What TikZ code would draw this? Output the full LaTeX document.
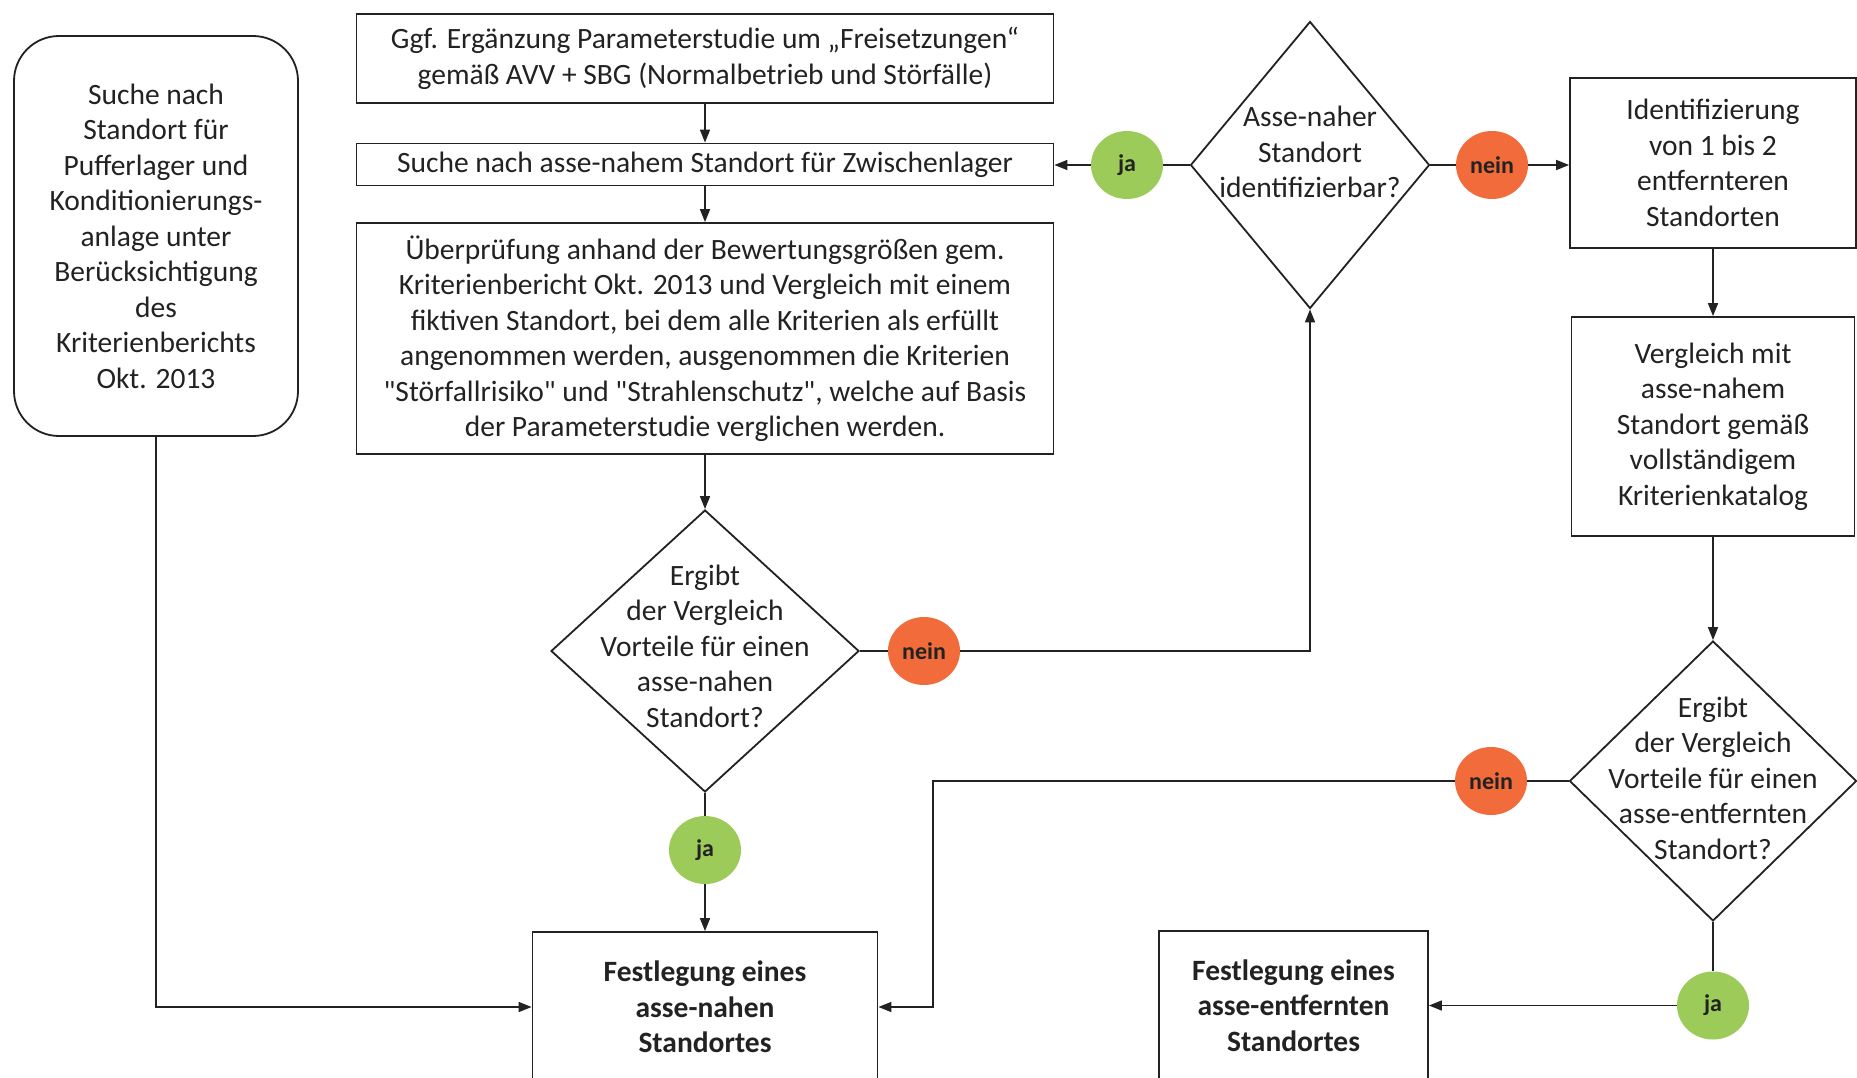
\documentclass[tikz,border=0pt]{standalone}
\usepackage{fontspec}
\setmainfont{Carlito}[Ligatures=TeXOff]
\usetikzlibrary{shapes.geometric,arrows.meta}
\definecolor{jagreen}{HTML}{9DCB5A}
\definecolor{neinorange}{HTML}{F26B3A}
\definecolor{ink}{HTML}{222222}
\begin{document}
\begin{tikzpicture}[x=1pt,y=-1pt,
  font=\fontsize{29.5}{35.5}\selectfont,
  every node/.style={text=ink},
  box/.style={draw=ink, line width=1.8pt, rectangle, inner sep=0pt, align=center},
  dia/.style={draw=ink, line width=1.8pt, diamond, inner sep=0pt},
  circ/.style={ellipse, inner sep=0pt, minimum width=72pt, minimum height=68pt, font=\bfseries\fontsize{24}{28}\selectfont},
  ja/.style={circ, fill=jagreen},
  nein/.style={circ, fill=neinorange},
  line/.style={draw=ink, line width=1.6pt},
  arr/.style={line, -{Triangle[length=13pt,width=10pt]}}]
\fill[white] (0,0) rectangle (1857,1078);
\useasboundingbox (0,0) rectangle (1857,1078);

\node[box, rounded corners=45pt, minimum width=284pt, minimum height=400pt] (left) at (156,236)
  {Suche nach\\Standort für\\Pufferlager und\\Konditionierungs-\\anlage unter\\Berücksichtigung\\des\\Kriterienberichts\\Okt. 2013};
\node[box, minimum width=697pt, minimum height=89pt] (b1) at (705,58.5)
  {Ggf. Ergänzung Parameterstudie um „Freisetzungen“\\gemäß AVV + SBG (Normalbetrieb und Störfälle)};
\node[box, minimum width=697pt, minimum height=42pt] (b2) at (705,164.5)
  {Suche nach asse-nahem Standort für Zwischenlager};
\node[box, minimum width=697pt, minimum height=231pt] (b3) at (705,338.5)
  {Überprüfung anhand der Bewertungsgrößen gem.\\Kriterienbericht Okt. 2013 und Vergleich mit einem\\fiktiven Standort, bei dem alle Kriterien als erfüllt\\angenommen werden, ausgenommen die Kriterien\\"Störfallrisiko" und "Strahlenschutz", welche auf Basis\\der Parameterstudie verglichen werden.};

\node[dia, minimum width=239pt, minimum height=287pt,
  label={[align=center, yshift=13pt]center:{Asse-naher\\Standort\\identifizierbar?}}] (d1) at (1310,165) {};
\node[dia, minimum width=308pt, minimum height=282pt,
  label={[align=center, yshift=5pt]center:{Ergibt\\der Vergleich\\Vorteile für einen\\asse-nahen\\Standort?}}] (d2) at (705,651) {};
\node[dia, minimum width=287pt, minimum height=280pt,
  label={[align=center, yshift=3pt]center:{Ergibt\\der Vergleich\\Vorteile für einen\\asse-entfernten\\Standort?}}] (d3) at (1713,781) {};

\node[box, minimum width=286pt, minimum height=170pt] (ident) at (1713,163)
  {Identifizierung\\von 1 bis 2\\entfernteren\\Standorten};
\node[box, minimum width=283pt, minimum height=219pt] (vergl) at (1713,426.5)
  {Vergleich mit\\asse-nahem\\Standort gemäß\\vollständigem\\Kriterienkatalog};
\node[box, minimum width=345pt, minimum height=150pt, font=\bfseries\fontsize{29.5}{35.5}\selectfont] (fnah) at (705,1007)
  {Festlegung eines\\asse-nahen\\Standortes};
\node[box, minimum width=269pt, minimum height=149pt, font=\bfseries\fontsize{29.5}{35.5}\selectfont] (fent) at (1293.5,1005.5)
  {Festlegung eines\\asse-entfernten\\Standortes};

\node[ja] (ja1) at (1127,165) {ja};
\node[nein] (nein1) at (1492,165) {nein};
\node[nein] (nein2) at (924,651) {nein};
\node[ja] (ja2) at (705,850) {ja};
\node[nein] (nein3) at (1491,781) {nein};
\node[ja] (ja3) at (1713,1005.5) {ja};

\draw[arr] (b1.south) -- (b2.north);
\draw[arr] (b2.south) -- (b3.north);
\draw[arr] (b3.south) -- (d2.north);
\draw[line] (d2.south) -- (ja2);
\draw[arr] (ja2) -- (fnah.north);
\draw[arr] (left.south) |- (fnah.west);
\draw[line] (d1.west) -- (ja1);
\draw[arr] (ja1) -- (ja1 -| b2.east);
\draw[line] (d1.east) -- (nein1);
\draw[arr] (nein1) -- (nein1 -| ident.west);
\draw[arr] (ident.south) -- (vergl.north);
\draw[arr] (vergl.south) -- (d3.north);
\draw[line] (d2.east) -- (nein2);
\draw[arr] (nein2) -| (d1.south);
\draw[line] (d3.west) -- (nein3);
\coordinate (bend) at (933,781);
\draw[arr] (nein3) -- (bend) |- (fnah.east);
\draw[line] (d3.south) -- (ja3);
\draw[arr] (ja3) -- (fent.east);
\end{tikzpicture}
\end{document}
